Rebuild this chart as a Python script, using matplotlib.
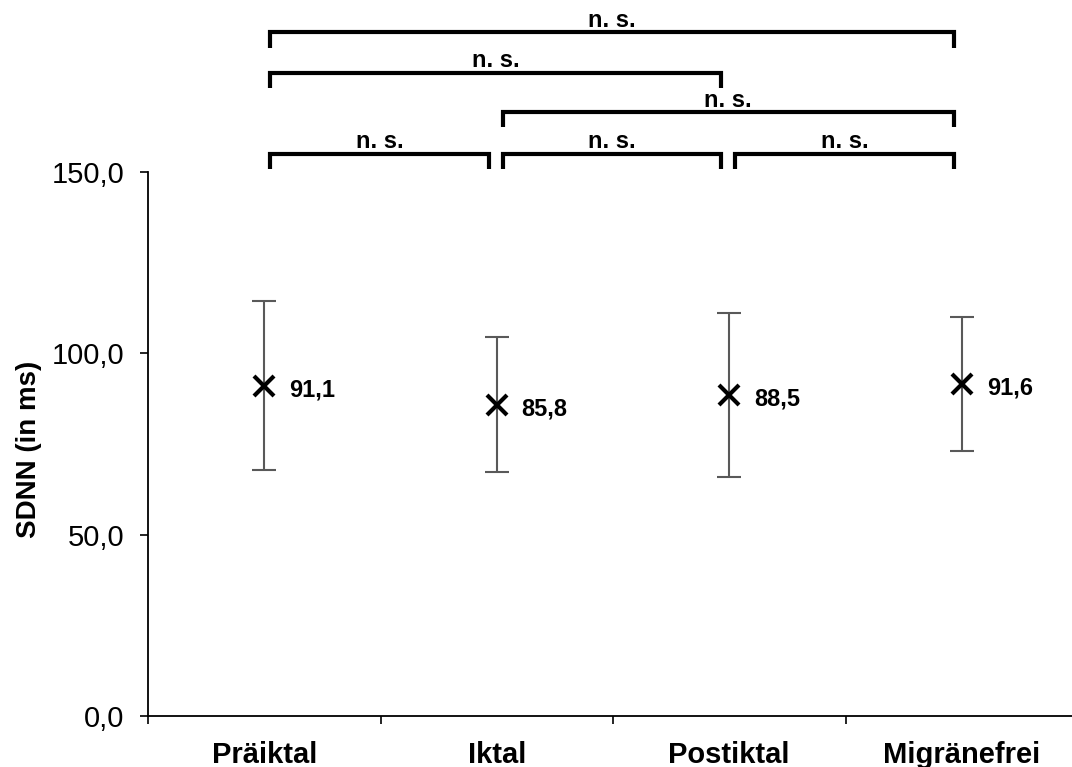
import matplotlib
matplotlib.use("Agg")
import matplotlib.pyplot as plt
from matplotlib.ticker import FixedLocator, FuncFormatter

plt.rcParams['font.family'] = ['Liberation Sans', 'DejaVu Sans']

# ---- data ----
categories = ["Präiktal", "Iktal", "Postiktal", "Migränefrei"]
means = [91.1, 85.8, 88.5, 91.6]
sds = [23.3, 18.6, 22.6, 18.5]
value_labels = ["91,1", "85,8", "88,5", "91,6"]
y_ticks = [0.0, 50.0, 100.0, 150.0]
# significance comparisons: (group a, group b, label)
comparisons_row1 = [(0, 1, "n. s."), (1, 2, "n. s."), (2, 3, "n. s.")]
comparisons_row2 = [(1, 3, "n. s.")]
comparisons_row3 = [(0, 2, "n. s.")]
comparisons_row4 = [(0, 3, "n. s.")]

fig = plt.figure(figsize=(10.72, 7.67), dpi=100)
ax = fig.add_axes([148/1072, 51/767, (1078-148)/1072, (716-172)/767])

x = list(range(len(categories)))
ax.errorbar(x, means, yerr=sds, fmt='none', ecolor='#595959', elinewidth=1.5,
            capsize=8.5, capthick=1.5, zorder=2)
ax.plot(x, means, linestyle='none', marker='x', markersize=14,
        markeredgewidth=3, color='black', zorder=3)
for xi, m, lab in zip(x, means, value_labels):
    ax.annotate(lab, (xi, m), xytext=(18, -3), textcoords='offset points',
                ha='left', va='center', fontsize=17, fontweight='bold')

ax.set_xlim(-0.5, len(categories) - 0.5)
ax.set_ylim(0, 150)
ax.yaxis.set_major_locator(FixedLocator(y_ticks))
ax.yaxis.set_major_formatter(FuncFormatter(lambda v, p: f"{v:.1f}".replace('.', ',')))
ax.tick_params(axis='y', direction='out', length=6, width=1.2, pad=11, labelsize=21)

# category labels centered, ticks between categories
ax.set_xticks([i + 0.5 for i in range(len(categories) - 1)] + [-0.5])
ax.set_xticklabels([])
ax.set_xticks(x, minor=True)
ax.set_xticklabels(categories, minor=True, fontsize=21, fontweight='bold')
ax.tick_params(axis='x', which='minor', length=0, pad=18)
ax.tick_params(axis='x', which='major', direction='out', length=6, width=1.2)

for s in ['top', 'right']:
    ax.spines[s].set_visible(False)
for s in ['left', 'bottom']:
    ax.spines[s].set_linewidth(1.3)

ax.set_ylabel("SDNN (in ms)", fontsize=20, fontweight='bold')
ax.yaxis.set_label_coords(-0.114, 0.49)

# significance brackets
def bracket(a, b, ybar, label):
    x0 = a + 0.025
    x1 = b - 0.035
    drop = 4.2
    ax.plot([x0, x0, x1, x1], [ybar - drop, ybar, ybar, ybar - drop],
            color='black', lw=3, clip_on=False, solid_joinstyle='miter',
            solid_capstyle='butt')
    ax.annotate(label, ((x0 + x1) / 2, ybar), xytext=(0, 4),
                textcoords='offset points', ha='center', va='baseline',
                fontsize=17, fontweight='bold', annotation_clip=False)

for level, comps in zip([155.0, 166.5, 177.4, 188.5],
                        [comparisons_row1, comparisons_row2, comparisons_row3, comparisons_row4]):
    for a, b, lab in comps:
        bracket(a, b, level, lab)

fig.savefig("out.png", dpi=100)
